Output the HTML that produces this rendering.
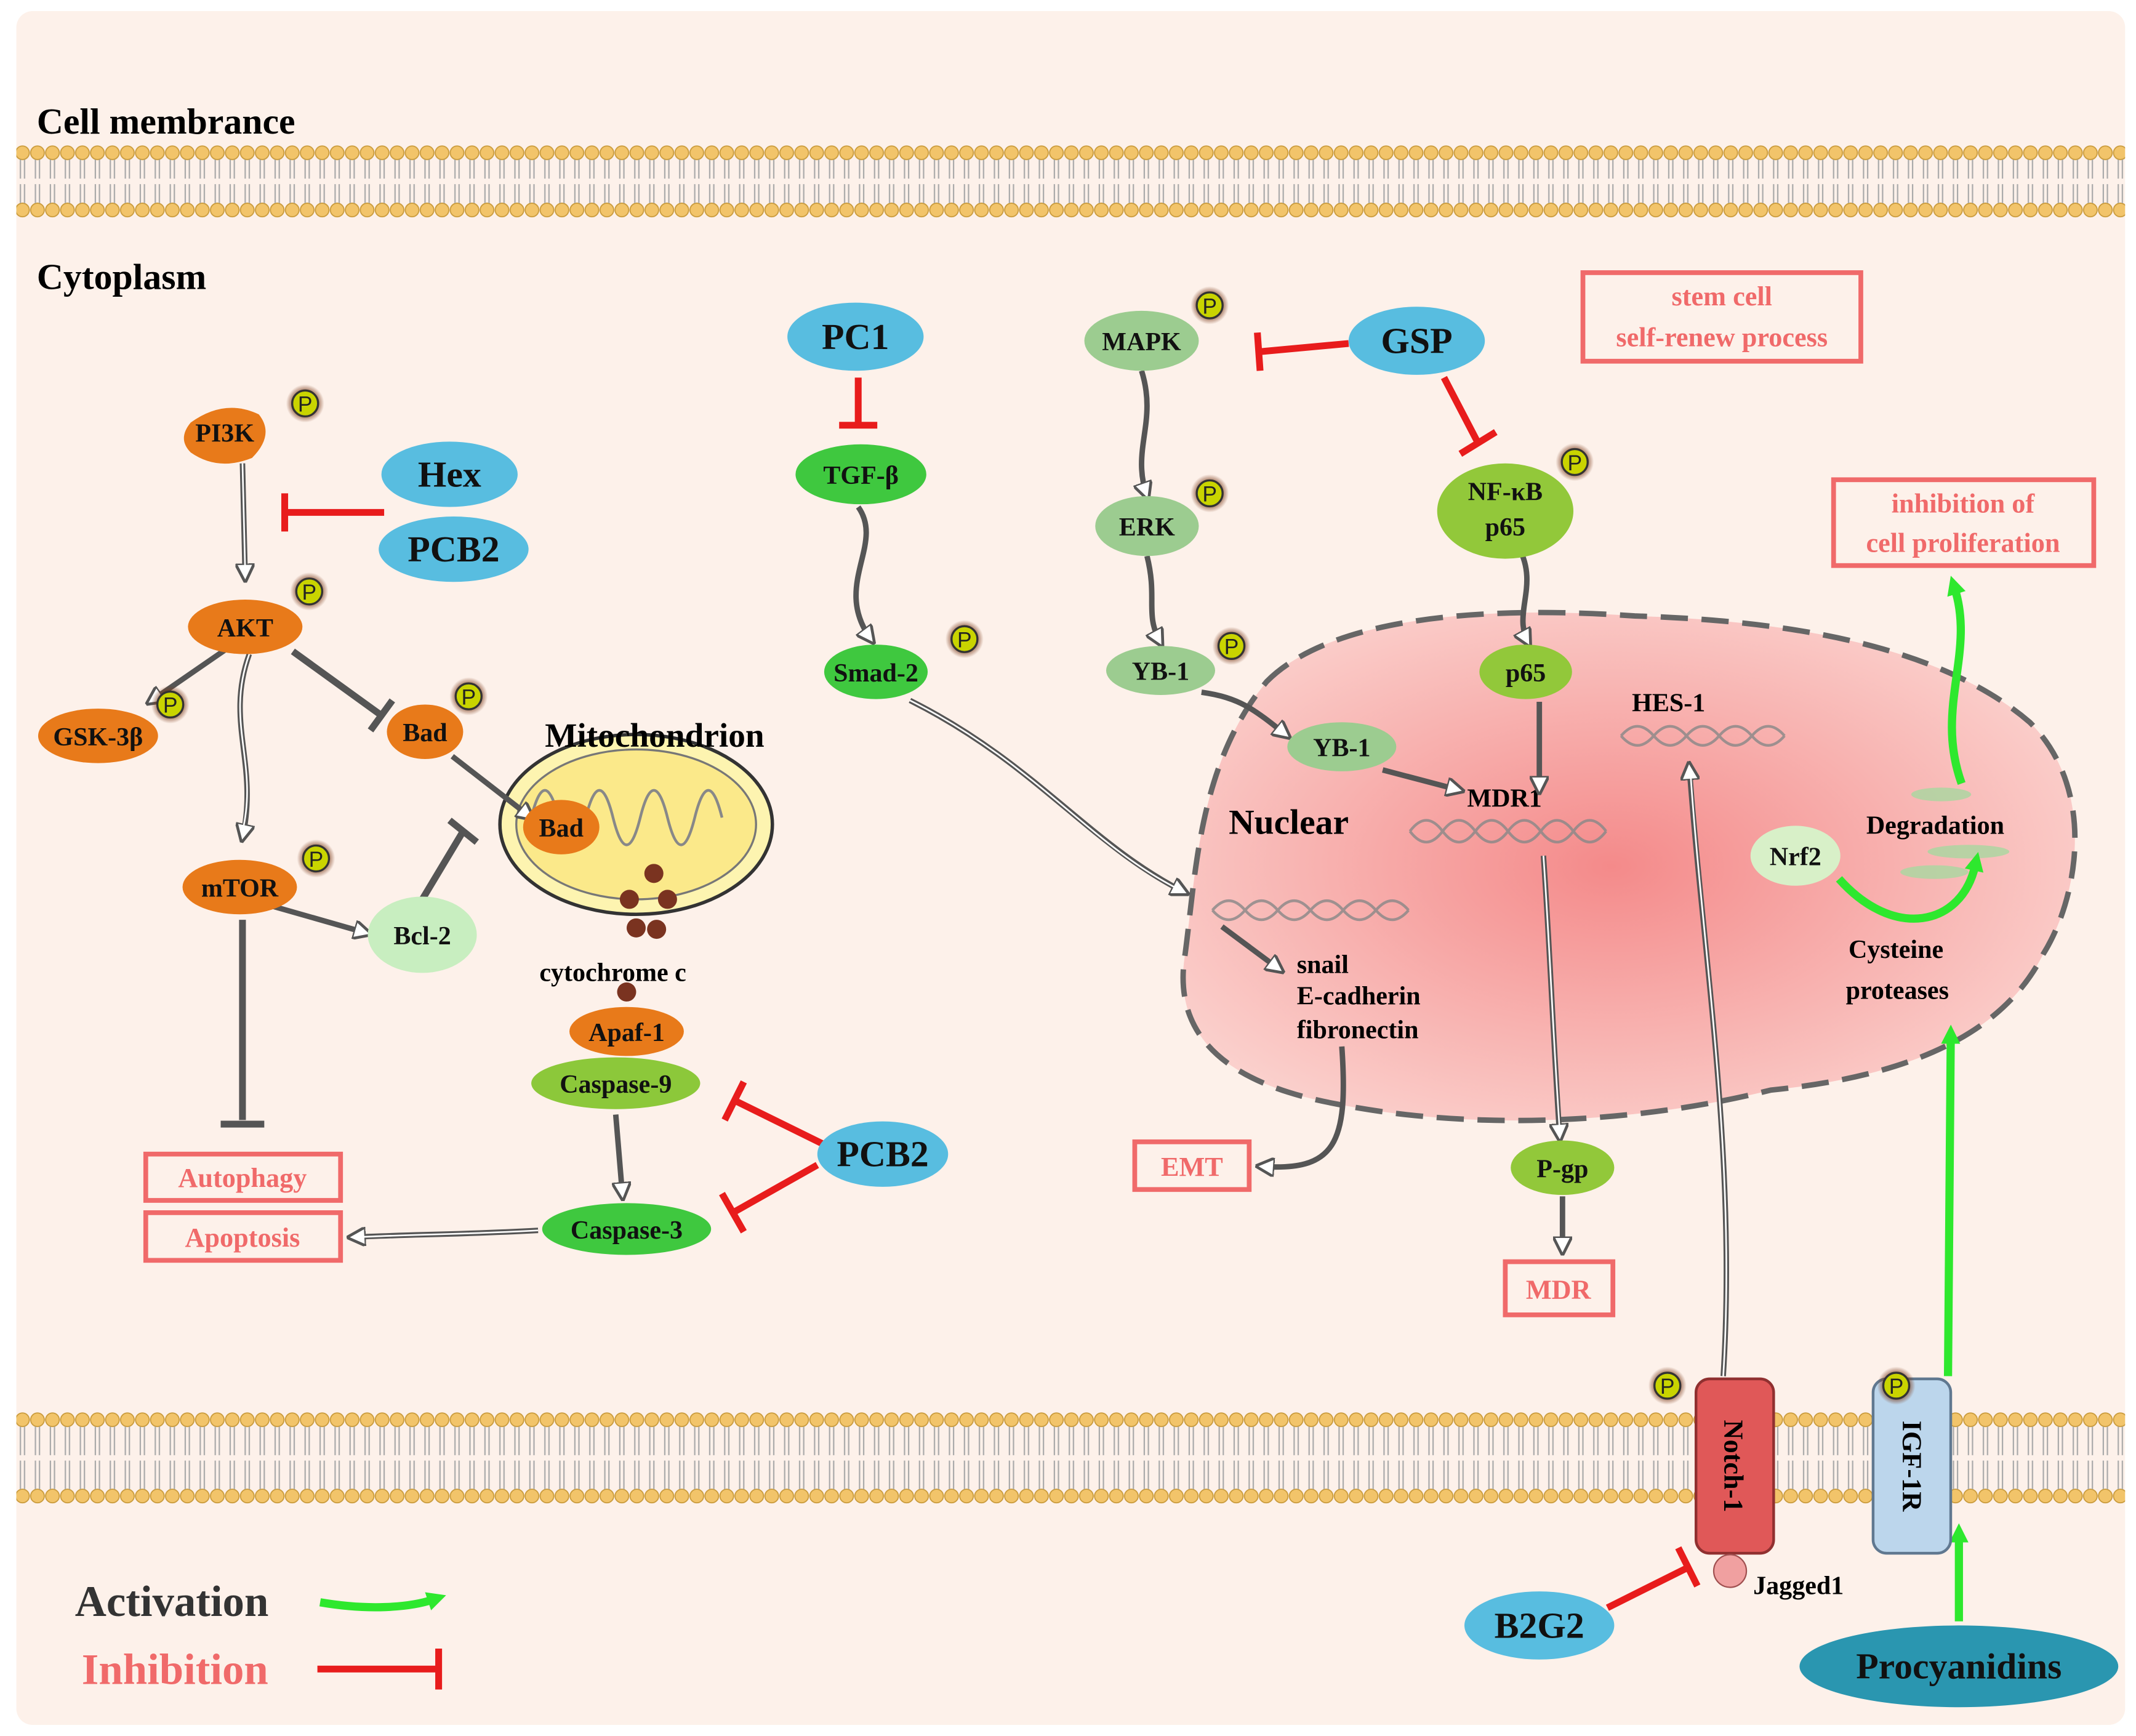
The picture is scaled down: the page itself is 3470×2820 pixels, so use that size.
<!DOCTYPE html>
<html><head><meta charset="utf-8"><style>
html,body{margin:0;padding:0;background:#fff}
svg{display:block}
text{font-family:"Liberation Serif",serif;font-weight:bold}
</style></head><body>
<svg width="3470" height="2820" viewBox="0 0 1568 1274" xmlns="http://www.w3.org/2000/svg">
<defs>
<pattern id="mem" x="0" y="106" width="11" height="54" patternUnits="userSpaceOnUse">
<circle cx="5.5" cy="6" r="5" fill="#f2c46a" stroke="#c99a3a" stroke-width="0.8"/>
<circle cx="5.5" cy="48" r="5" fill="#f2c46a" stroke="#c99a3a" stroke-width="0.8"/>
<path d="M4 11 L4 25 M7 11 L7 25 M4 29 L4 43 M7 29 L7 43" stroke="#aaa" stroke-width="1"/>
</pattern>
<pattern id="mem2" x="0" y="1036" width="11" height="68" patternUnits="userSpaceOnUse">
<circle cx="5.5" cy="6" r="5" fill="#f2c46a" stroke="#c99a3a" stroke-width="0.8"/>
<circle cx="5.5" cy="62" r="5" fill="#f2c46a" stroke="#c99a3a" stroke-width="0.8"/>
<path d="M4 11 L4 32 M7 11 L7 32 M4 36 L4 57 M7 36 L7 57" stroke="#aaa" stroke-width="1"/>
</pattern>
<radialGradient id="nuc" cx="0.48" cy="0.5" r="0.6">
<stop offset="0" stop-color="#f48a8a"/><stop offset="1" stop-color="#fbd3cf"/></radialGradient>
<radialGradient id="glow"><stop offset="0.5" stop-color="#7a3a1a"/><stop offset="1" stop-color="#7a3a1a" stop-opacity="0"/></radialGradient>
<marker id="ha" markerWidth="14" markerHeight="14" refX="6" refY="4" orient="auto" markerUnits="userSpaceOnUse" viewBox="0 0 8 8">
<path d="M0 0 L8 4 L0 8 Z" fill="#fff" stroke="#555" stroke-width="1.2"/></marker>
<marker id="ga" markerWidth="14" markerHeight="14" refX="4" refY="7" orient="auto" markerUnits="userSpaceOnUse">
<path d="M0 0 L14 7 L0 14 Z" fill="#2ee82e"/></marker>
<symbol id="P" viewBox="-14 -14 28 28" overflow="visible">
<circle r="14" fill="url(#glow)"/><circle r="9.5" fill="#c9d400" stroke="#333" stroke-width="1.5"/>
<text y="6" text-anchor="middle" font-size="16" fill="#222" style="font-family:'Liberation Sans',sans-serif;font-weight:normal">P</text></symbol>
</defs>
<rect x="0" y="0" width="1568" height="1274" fill="#fff"/>
<rect x="12" y="8" width="1548" height="1258" rx="12" fill="#fdf1ea"/>
<rect x="12" y="106" width="1548" height="54" fill="url(#mem)"/>
<rect x="12" y="1036" width="1548" height="68" fill="url(#mem2)"/>
<text x="27" y="98" font-size="27">Cell membrance</text>
<text x="27" y="212" font-size="27">Cytoplasm</text>

<!-- nucleus -->
<path d="M930 500 C980 450 1100 445 1200 452 C1300 455 1420 470 1490 530 C1540 580 1525 660 1500 700 C1470 760 1400 790 1300 800 C1200 825 1080 830 980 810 C900 795 860 760 870 700 C878 640 880 560 930 500 Z" fill="url(#nuc)" stroke="#666" stroke-width="4" stroke-dasharray="20 10"/>
<text x="902" y="612" font-size="26">Nuclear</text>

<!-- DNA -->
<g stroke="#888" stroke-width="2" fill="none" opacity="0.8">
<path d="M1035 610 q12 -16 24 0 t24 0 t24 0 t24 0 t24 0 t24 0"/><path d="M1035 610 q12 16 24 0 t24 0 t24 0 t24 0 t24 0 t24 0"/>
<path d="M890 668 q12 -14 24 0 t24 0 t24 0 t24 0 t24 0 t24 0"/><path d="M890 668 q12 14 24 0 t24 0 t24 0 t24 0 t24 0 t24 0"/>
<path d="M1190 540 q12 -14 24 0 t24 0 t24 0 t24 0 t24 0"/><path d="M1190 540 q12 14 24 0 t24 0 t24 0 t24 0 t24 0"/>
</g>
<text x="1198" y="522" font-size="19">HES-1</text>
<text x="1077" y="592" font-size="19">MDR1</text>
<text x="952" y="714" font-size="19">snail</text>
<text x="952" y="737" font-size="19">E-cadherin</text>
<text x="952" y="762" font-size="19">fibronectin</text>
<text x="1370" y="612" font-size="19">Degradation</text>
<text x="1357" y="703" font-size="19">Cysteine</text>
<text x="1355" y="733" font-size="19">proteases</text>
<g fill="#a8d8a0" opacity="0.8"><ellipse cx="1425" cy="583" rx="22" ry="5"/><ellipse cx="1445" cy="625" rx="30" ry="5"/><ellipse cx="1420" cy="640" rx="25" ry="5"/></g>

<!-- mitochondrion -->
<ellipse cx="467" cy="605" rx="100" ry="66" fill="#fdf4b0" stroke="#333" stroke-width="2.5"/>
<ellipse cx="467" cy="605" rx="88" ry="55" fill="#fbe98a" stroke="#777" stroke-width="1.5"/>
<path d="M390 600 q10 -40 20 0 q10 40 20 0 q10 -40 20 0 q10 40 20 0 q10 -40 20 0 q10 40 20 0 q10 -40 20 0" fill="none" stroke="#888" stroke-width="2"/>
<text x="400" y="548" font-size="25">Mitochondrion</text>
<g fill="#7a3320"><circle cx="480" cy="641" r="7"/><circle cx="462" cy="660" r="7"/><circle cx="490" cy="660" r="7"/><circle cx="467" cy="681" r="7"/><circle cx="482" cy="682" r="7"/><circle cx="460" cy="728" r="7"/></g>
<text x="396" y="720" font-size="19">cytochrome c</text>

<!-- gray connectors -->
<g fill="none" stroke="#555" stroke-width="4" marker-end="url(#ha)">
<path d="M178 340 L180 424"/>
<path d="M168 475 L110 515"/>
<path d="M183 480 C165 530 190 560 178 615"/>
<path d="M200 665 L270 685"/>
<path d="M332 555 L390 600"/>
<path d="M630 372 C650 400 610 430 640 470"/>
<path d="M668 514 C760 560 800 620 870 655"/>
<path d="M838 272 C850 310 830 330 842 364"/>
<path d="M842 408 C850 440 840 450 852 472"/>
<path d="M882 508 C910 512 920 520 945 540"/>
<path d="M1015 565 L1072 580"/>
<path d="M1115 402 C1130 430 1110 450 1122 472"/>
<path d="M1130 515 L1130 580"/>
<path d="M1133 628 C1138 700 1140 760 1145 835"/>
<path d="M1147 878 L1147 918"/>
<path d="M897 680 L940 712"/>
<path d="M985 768 C990 840 980 860 925 856"/>
<path d="M452 818 L457 878"/>
<path d="M395 903 C340 906 300 906 258 908"/>
<path d="M1265 1010 C1275 850 1250 700 1240 562"/>
</g>
<g fill="none" stroke="#fff" stroke-width="1.2">
<path d="M178 340 L180 420"/><path d="M183 480 C165 530 190 560 178 610"/><path d="M668 514 C760 560 800 620 866 653"/><path d="M1133 628 C1138 700 1140 760 1145 830"/><path d="M1265 1010 C1275 850 1250 700 1241 568"/><path d="M395 903 C340 906 300 906 262 908"/>
</g>
<!-- gray inhibitions -->
<g fill="none" stroke="#555" stroke-width="5">
<path d="M215 478 L280 525 M272 536 L288 514"/>
<path d="M178 675 L178 822 M162 825 L194 825"/>
<path d="M310 660 L340 610 M330 602 L350 618"/>
</g>

<!-- red inhibitions -->
<g fill="none" stroke="#e81c1c" stroke-width="5">
<path d="M282 376 L210 376 M209 362 L209 390"/>
<path d="M630 277 L630 312 M616 312 L644 312"/>
<path d="M990 252 L925 258 M923 244 L925 272"/>
<path d="M1060 277 L1085 325 M1072 333 L1098 317"/>
<path d="M605 840 L540 808 M532 822 L546 794"/>
<path d="M600 855 L538 890 M530 876 L546 904"/>
<path d="M1180 1180 L1240 1150 M1232 1136 L1246 1164"/>
<path d="M233 1225 L320 1225 M322 1210 L322 1240"/>
</g>
<!-- green arrows -->
<g fill="none" stroke="#2ee82e" stroke-width="6">
<path d="M1438 1190 L1438 1128" marker-end="url(#ga)"/>
<path d="M1430 1010 L1432 762" marker-end="url(#ga)"/>
<path d="M1350 645 C1390 690 1440 680 1450 635" marker-end="url(#ga)"/>
<path d="M1440 575 C1420 520 1450 480 1435 432" marker-end="url(#ga)"/>
<path d="M235 1176 C270 1182 300 1180 318 1174" marker-end="url(#ga)"/>
</g>

<!-- nodes -->
<g font-size="19" text-anchor="middle" fill="#111">
<g fill="#e87a1a">
<path d="M140 310 q25 -18 50 -6 q12 15 -5 32 q-25 10 -45 -4 q-10 -10 0 -22z"/>
<ellipse cx="180" cy="460" rx="42" ry="20"/><ellipse cx="72" cy="540" rx="44" ry="20"/>
<ellipse cx="312" cy="537" rx="28" ry="20"/><ellipse cx="176" cy="651" rx="42" ry="20"/>
<ellipse cx="412" cy="607" rx="28" ry="20"/><ellipse cx="460" cy="757" rx="42" ry="18"/></g>
<text x="165" y="324">PI3K</text><text x="180" y="467">AKT</text><text x="72" y="547">GSK-3β</text>
<text x="312" y="544">Bad</text><text x="176" y="658">mTOR</text><text x="412" y="614">Bad</text><text x="460" y="764">Apaf-1</text>
<g fill="#3fc83f"><ellipse cx="632" cy="348" rx="48" ry="22"/><ellipse cx="643" cy="493" rx="38" ry="20"/><ellipse cx="460" cy="902" rx="62" ry="19"/></g>
<ellipse cx="452" cy="795" rx="62" ry="19" fill="#8cc83a"/>
<text x="632" y="355">TGF-β</text><text x="643" y="500">Smad-2</text><text x="460" y="909">Caspase-3</text><text x="452" y="802">Caspase-9</text>
<ellipse cx="310" cy="686" rx="40" ry="28" fill="#c8eec0"/><text x="310" y="693">Bcl-2</text>
<g fill="#9ccc90"><ellipse cx="838" cy="250" rx="42" ry="22"/><ellipse cx="842" cy="386" rx="38" ry="22"/><ellipse cx="852" cy="492" rx="40" ry="18"/><ellipse cx="985" cy="548" rx="40" ry="18"/></g>
<text x="838" y="257">MAPK</text><text x="842" y="393">ERK</text><text x="852" y="499">YB-1</text><text x="985" y="555">YB-1</text>
<g fill="#92c83a"><ellipse cx="1105" cy="375" rx="50" ry="35"/><ellipse cx="1120" cy="493" rx="34" ry="20"/><ellipse cx="1147" cy="857" rx="38" ry="20"/></g>
<text x="1105" y="367">NF-κB</text><text x="1105" y="393">p65</text><text x="1120" y="500">p65</text><text x="1147" y="864">P-gp</text>
<ellipse cx="1318" cy="628" rx="33" ry="22" fill="#d8f0c8"/><text x="1318" y="635">Nrf2</text>
</g>
<g font-size="27" text-anchor="middle" fill="#111">
<g fill="#58bde0"><ellipse cx="628" cy="247" rx="50" ry="25"/><ellipse cx="1040" cy="250" rx="50" ry="25"/><ellipse cx="330" cy="348" rx="50" ry="24"/><ellipse cx="333" cy="403" rx="55" ry="24"/><ellipse cx="648" cy="847" rx="48" ry="24"/><ellipse cx="1130" cy="1193" rx="55" ry="25"/></g>
<ellipse cx="1438" cy="1223" rx="117" ry="30" fill="#2a96b0"/>
<text x="628" y="256">PC1</text><text x="1040" y="259">GSP</text><text x="330" y="357">Hex</text><text x="333" y="412">PCB2</text><text x="648" y="856">PCB2</text><text x="1130" y="1202">B2G2</text><text x="1438" y="1232">Procyanidins</text>
</g>
<!-- red boxes -->
<g fill="none" stroke="#f06a6a" stroke-width="3.5">
<rect x="1162" y="200" width="204" height="65"/><rect x="1346" y="352" width="191" height="63"/>
<rect x="107" y="847" width="143" height="34"/><rect x="107" y="890" width="143" height="35"/>
<rect x="833" y="838" width="84" height="35"/><rect x="1105" y="926" width="79" height="39"/>
</g>
<g font-size="20" text-anchor="middle" fill="#f06a6a">
<text x="1264" y="224">stem cell</text><text x="1264" y="254">self-renew process</text>
<text x="1441" y="376">inhibition of</text><text x="1441" y="405">cell proliferation</text>
<text x="178" y="871">Autophagy</text><text x="178" y="915">Apoptosis</text>
<text x="875" y="863">EMT</text><text x="1144" y="953">MDR</text>
</g>
<!-- receptors -->
<rect x="1245" y="1012" width="57" height="128" rx="10" fill="#e05858" stroke="#903030" stroke-width="2"/>
<text transform="translate(1266 1076) rotate(90)" font-size="20" text-anchor="middle">Notch-1</text>
<rect x="1375" y="1012" width="57" height="128" rx="10" fill="#bcd6ec" stroke="#607890" stroke-width="2"/>
<text transform="translate(1397 1076) rotate(90)" font-size="20" text-anchor="middle">IGF-1R</text>
<circle cx="1270" cy="1153" r="12" fill="#f0a0a0" stroke="#a05050"/>
<text x="1287" y="1170" font-size="19">Jagged1</text>
<!-- P badges -->
<g>
<use href="#P" x="210" y="282" width="28" height="28"/><use href="#P" x="213" y="420" width="28" height="28"/>
<use href="#P" x="111" y="503" width="28" height="28"/><use href="#P" x="330" y="497" width="28" height="28"/>
<use href="#P" x="218" y="616" width="28" height="28"/><use href="#P" x="694" y="455" width="28" height="28"/>
<use href="#P" x="874" y="210" width="28" height="28"/><use href="#P" x="874" y="348" width="28" height="28"/>
<use href="#P" x="890" y="460" width="28" height="28"/><use href="#P" x="1142" y="325" width="28" height="28"/>
<use href="#P" x="1210" y="1003" width="28" height="28"/><use href="#P" x="1378" y="1003" width="28" height="28"/>
</g>
<!-- legend -->
<text x="55" y="1186" font-size="32" fill="#333">Activation</text>
<text x="60" y="1236" font-size="32" fill="#f06a6a">Inhibition</text>
</svg>
</body></html>
